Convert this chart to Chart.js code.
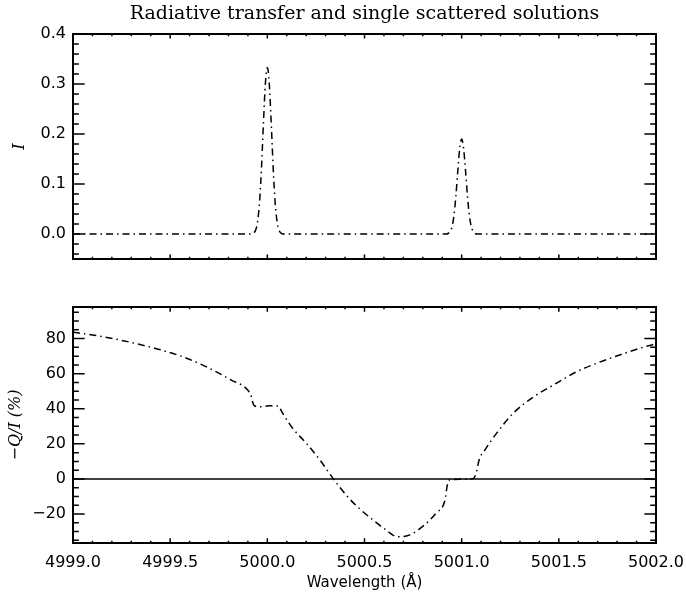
<!DOCTYPE html>
<html>
<head>
<meta charset="utf-8">
<title>Radiative transfer and single scattered solutions</title>
<script src="https://cdn.jsdelivr.net/npm/chart.js@4.4.0/dist/chart.umd.min.js"></script>
<style>
    body { margin: 0; background: #fff; }
    #wrap { position: relative; width: 686px; height: 599px; }
    canvas { position: absolute; left: 0; }
    #top-chart { top: 0; }
    #bottom-chart { top: 285px; }
</style>
</head>
<body>
<div id="wrap">
    <canvas id="top-chart" width="686" height="285"></canvas>
    <canvas id="bottom-chart" width="686" height="314"></canvas>
</div>
<script>
// intensity profile (top panel)
var wavelengthI = [4999.0,
    4999.92, 4999.93, 4999.94, 4999.95, 4999.96, 4999.97, 4999.98, 4999.99, 5000.00,
    5000.01, 5000.02, 5000.03, 5000.04, 5000.05, 5000.06, 5000.07, 5000.08,
    5000.92, 5000.93, 5000.94, 5000.95, 5000.96, 5000.97, 5000.98, 5000.99, 5001.00,
    5001.01, 5001.02, 5001.03, 5001.04, 5001.05, 5001.06, 5001.07, 5001.08,
    5002.0];
var intensity = [0,
    0, 0.002, 0.008, 0.025, 0.064, 0.133, 0.222, 0.301, 0.333,
    0.301, 0.222, 0.133, 0.064, 0.025, 0.008, 0.002, 0,
    0, 0.001, 0.005, 0.014, 0.036, 0.075, 0.126, 0.171, 0.19,
    0.171, 0.126, 0.075, 0.036, 0.014, 0.005, 0.001, 0,
    0];

// -Q/I in percent (bottom panel)
var wavelengthQ = [4999.00, 4999.10, 4999.21, 4999.33, 4999.45, 4999.57, 4999.69, 4999.81,
    4999.90, 4999.915, 4999.93, 4999.96, 5000.01, 5000.06, 5000.07, 5000.09, 5000.13,
    5000.20, 5000.27, 5000.34, 5000.42, 5000.48, 5000.545, 5000.61, 5000.67, 5000.73,
    5000.80, 5000.87, 5000.915, 5000.925, 5000.94, 5000.99, 5001.06, 5001.075, 5001.09,
    5001.12, 5001.18, 5001.265, 5001.37, 5001.47, 5001.59, 5001.71, 5001.83, 5001.935, 5002.00];
var polarization = [83.6, 82.1, 79.9, 77.0, 73.6, 69.4, 63.7, 56.6,
    50.6, 47.8, 42.1, 41.1, 41.7, 41.5, 39.2, 35.5, 28.9,
    20.4, 10.9, 0, -11, -17.5, -23.5, -29, -33, -32,
    -27, -19.3, -11.7, -4.2, -0.4, -0.2, 0.2, 3.4, 10.9,
    16.6, 26.1, 37.4, 46.8, 53.4, 61.0, 66.6, 71.3, 75.1, 77.0];

var xTicks = [4999.0, 4999.5, 5000.0, 5000.5, 5001.0, 5001.5, 5002.0];
var yTicksI = [0.0, 0.1, 0.2, 0.3, 0.4];
var yTicksQ = [-20, 0, 20, 40, 60, 80];

var dashDot = [7, 4, 1.5, 4];
var axisFont = { family: 'DejaVu Sans', size: 16 };

function points(xs, ys) {
    return xs.map(function (x, i) { return { x: x, y: ys[i] }; });
}

function setTicks(list) {
    return function (scale) {
        scale.ticks = list.map(function (v) { return { value: v }; });
    };
}

function tickValues(min, max, step) {
    var out = [];
    var start = Math.ceil(min / step - 1e-6);
    var end = Math.floor(max / step + 1e-6);
    for (var i = start; i <= end; i++) out.push(i * step);
    return out;
}

function isMajor(v, major) {
    var r = v / major;
    return Math.abs(r - Math.round(r)) < 1e-6;
}

// IDL style box with inward ticks on all four sides
var idlFrame = {
    id: 'idlFrame',
    afterDraw: function (chart, args, o) {
        var ctx = chart.ctx;
        var a = chart.chartArea;
        var xs = chart.scales.x;
        var ys = chart.scales.y;
        var xLen = 0.02 * (a.bottom - a.top);
        var yLen = 0.02 * (a.right - a.left);
        ctx.save();
        ctx.strokeStyle = '#000';
        ctx.lineWidth = 1.5;
        ctx.beginPath();
        tickValues(xs.min, xs.max, o.xMinor).forEach(function (v) {
            var px = xs.getPixelForValue(v);
            var len = isMajor(v, o.xMajor) ? xLen : xLen / 2;
            ctx.moveTo(px, a.bottom);
            ctx.lineTo(px, a.bottom - len);
            ctx.moveTo(px, a.top);
            ctx.lineTo(px, a.top + len);
        });
        tickValues(ys.min, ys.max, o.yMinor).forEach(function (v) {
            var py = ys.getPixelForValue(v);
            var len = isMajor(v, o.yMajor) ? yLen : yLen / 2;
            ctx.moveTo(a.left, py);
            ctx.lineTo(a.left + len, py);
            ctx.moveTo(a.right, py);
            ctx.lineTo(a.right - len, py);
        });
        ctx.stroke();
        ctx.lineWidth = 2;
        ctx.strokeRect(a.left, a.top, a.right - a.left, a.bottom - a.top);
        ctx.restore();
    }
};

var topChart = new Chart(document.getElementById('top-chart'), {
    type: 'line',
    data: {
        datasets: [{
            data: points(wavelengthI, intensity),
            borderColor: '#000',
            borderWidth: 1.5,
            borderDash: dashDot,
            pointRadius: 0,
            cubicInterpolationMode: 'monotone'
        }]
    },
    options: {
        responsive: false,
        animation: false,
        layout: { padding: { left: 0, right: 30, top: 0, bottom: 26 } },
        plugins: {
            legend: { display: false },
            tooltip: { enabled: false },
            title: {
                display: true,
                fullSize: false,
                text: 'Radiative transfer and single scattered solutions',
                color: '#000',
                font: { family: 'DejaVu Serif', size: 19, weight: 'normal' },
                padding: { top: 2.6, bottom: 8.6 }
            },
            idlFrame: { xMinor: 0.1, xMajor: 0.5, yMinor: 0.02, yMajor: 0.1 }
        },
        scales: {
            x: {
                type: 'linear',
                display: false,
                min: 4999.0,
                max: 5002.0
            },
            y: {
                min: -0.05,
                max: 0.4,
                afterFit: function (s) { s.width = 73; },
                afterBuildTicks: setTicks(yTicksI),
                grid: { display: false, drawTicks: false },
                border: { display: false },
                ticks: {
                    color: '#000',
                    font: axisFont,
                    padding: 7,
                    callback: function (v) { return v.toFixed(1); }
                },
                title: {
                    display: true,
                    text: 'I',
                    color: '#000',
                    font: { family: 'DejaVu Serif', style: 'italic', size: 16 },
                    padding: { top: 10.4, bottom: 0 }
                }
            }
        }
    },
    plugins: [idlFrame]
});

var bottomChart = new Chart(document.getElementById('bottom-chart'), {
    type: 'line',
    data: {
        datasets: [{
            data: points(wavelengthQ, polarization),
            borderColor: '#000',
            borderWidth: 1.5,
            borderDash: dashDot,
            pointRadius: 0,
            cubicInterpolationMode: 'monotone'
        }, {
            data: [{ x: xTicks[0], y: 0 }, { x: xTicks[xTicks.length - 1], y: 0 }],
            borderColor: '#000',
            borderWidth: 1.5,
            pointRadius: 0
        }]
    },
    options: {
        responsive: false,
        animation: false,
        layout: { padding: { left: 0, right: 30, top: 22, bottom: 0 } },
        plugins: {
            legend: { display: false },
            tooltip: { enabled: false },
            idlFrame: { xMinor: 0.1, xMajor: 0.5, yMinor: 5, yMajor: 20 }
        },
        scales: {
            x: {
                type: 'linear',
                min: 4999.0,
                max: 5002.0,
                afterFit: function (s) {
                    s.height = 56;
                    s.paddingLeft = 0;
                    s.paddingRight = 0;
                },
                afterBuildTicks: setTicks(xTicks),
                grid: { display: false, drawTicks: false },
                border: { display: false },
                ticks: {
                    color: '#000',
                    font: axisFont,
                    padding: 10,
                    maxRotation: 0,
                    callback: function (v) { return v.toFixed(1); }
                },
                title: {
                    display: true,
                    text: 'Wavelength (Å)',
                    color: '#000',
                    font: { family: 'DejaVu Sans', size: 15 },
                    padding: { top: 0, bottom: 7 }
                }
            },
            y: {
                min: -36.5,
                max: 98,
                afterFit: function (s) { s.width = 73; },
                afterBuildTicks: setTicks(yTicksQ),
                grid: { display: false, drawTicks: false },
                border: { display: false },
                ticks: {
                    color: '#000',
                    font: axisFont,
                    padding: 7,
                    callback: function (v) { return v < 0 ? '\u2212' + Math.abs(v) : String(v); }
                },
                title: {
                    display: true,
                    text: '\u2212Q/I (%)',
                    color: '#000',
                    font: { family: 'DejaVu Serif', style: 'italic', size: 16 },
                    padding: { top: 6.4, bottom: 0 }
                }
            }
        }
    },
    plugins: [idlFrame]
});
</script>
</body>
</html>
